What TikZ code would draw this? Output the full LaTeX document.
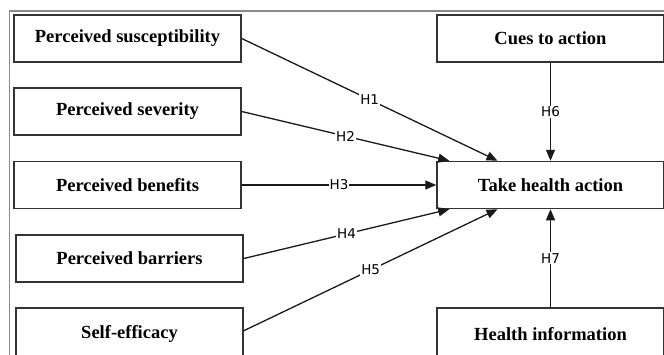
\documentclass[tikz,border=0pt]{standalone}
\usepackage{fontspec}
\setmainfont{Liberation Serif}
\newfontfamily\labelfont{DejaVu Sans}
\usepackage{xcolor}
\usepackage{tikz}
\usetikzlibrary{arrows.meta,calc}
\definecolor{BoxLine}{HTML}{333333}
\definecolor{FrameGray}{HTML}{8A8A8A}
\definecolor{ArrowLine}{HTML}{1A1A1A}

\begin{document}
\begin{tikzpicture}[
  x=1pt, y=-1pt,
  box/.style={rectangle, draw=BoxLine, line width=1.5pt, align=center, minimum width=227pt, minimum height=47pt, fill=white, font=\fontsize{18.5}{22}\selectfont\bfseries},
  arrow/.style={-{Triangle[length=11pt,width=9pt]}, line width=1.3pt, draw=ArrowLine},
  hlab/.style={fill=white, inner sep=1pt, font=\fontsize{13.5}{15}\labelfont, pos=0.5}
]
\useasboundingbox (0,0) rectangle (664,354);
\draw[FrameGray, line width=1.2pt] (9.5,370) -- (9.5,11) -- (680,11);
\node[box] (suscept) at (127.5,38.5) {Perceived susceptibility};
\node[box] (severity) at (127.5,111.5) {Perceived severity};
\node[box] (benefits) at (127.5,185) {Perceived benefits};
\node[box] (barriers) at (129.5,258.5) {Perceived barriers};
\node[box, minimum height=52pt] (efficacy) at (129.5,334) {Self-efficacy};
\node[box] (cues) at (550.5,38.5) {Cues to action};
\node[box] (action) at (550.5,185) {Take health action};
\node[box, minimum height=52pt] (info) at (550.5,334) {Health information};
\draw[arrow] (suscept.east) -- ($(action.north)+(-53,0)$) node[hlab] {H1};
\draw[arrow] (severity.east) -- ($(action.north west)+(13,0)$) node[hlab] {H2};
\draw[arrow] (benefits.east) -- (action.west) node[hlab] {H3};
\draw[arrow] (barriers.east) -- ($(action.south west)+(13,0)$) node[hlab] {H4};
\draw[arrow] ($(efficacy.north east)+(0,23.5)$) -- ($(action.south)+(-53,0)$) node[hlab] {H5};
\draw[arrow] (cues.south) -- (action.north) node[hlab] {H6};
\draw[arrow] (info.north) -- (action.south) node[hlab] {H7};
\end{tikzpicture}
\end{document}
